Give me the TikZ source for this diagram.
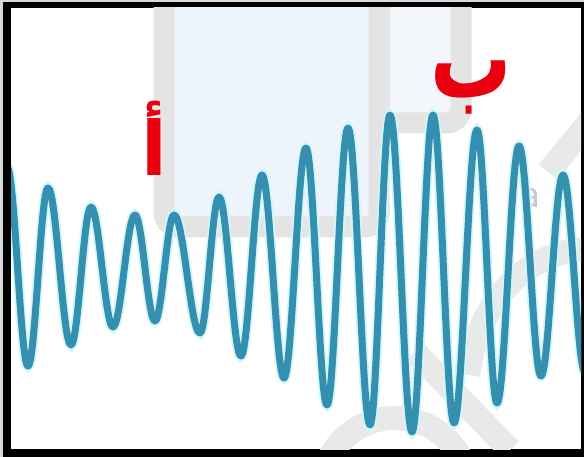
\documentclass[tikz,border=0pt]{standalone}
\usepackage{fontspec}
\newfontfamily\arabicfont[Script=Arabic]{DejaVu Sans}
\TeXXeTstate=1
\usetikzlibrary{calc}
\definecolor{wave}{HTML}{3490AE}
\definecolor{glow}{HTML}{D2F7FB}
\definecolor{letter}{HTML}{E8000E}
\definecolor{wmgray}{HTML}{E4E4E4}
\definecolor{wmgray2}{HTML}{E9E9E9}
\definecolor{wmblue}{HTML}{EEF4FC}
\definecolor{wmblue2}{HTML}{F3F7FC}
\tikzset{
  wavestyle/.style={draw=wave, line width=7, line join=round, line cap=round,
    preaction={draw=glow, line width=10.5}},
  wmframe/.style={draw=wmgray, line width=21, rounded corners=14},
  wmband/.style={draw=wmgray2, line width=24},
  letterstyle/.style={text=letter, inner sep=0pt, font=\arabicfont\bfseries\fontsize{75}{80}\selectfont}
}
\begin{document}
\begin{tikzpicture}[x=1pt,y=-1pt]
\useasboundingbox (0,0) rectangle (584,457);
\fill[gray!30] (0,0) rectangle (584,457);
\fill[black] (3,2) rectangle (584,457);
\fill[white] (11,8) rectangle (581,449);
\begin{scope}
\clip (11,8) rectangle (581,449);
% faint watermark
\draw[wmframe, fill=wmblue2] (379,-30) rectangle (461,123);
\draw[wmframe, fill=wmblue] (164,-30) rectangle (379,227);
\draw[wmband] (395,492) circle[radius=74];
\draw[wmband] (415,352) -- (510,450);
\draw[wmband] (468,375) .. controls (480,290) and (540,245) .. (595,250);
\draw[wmband] (548,172) -- (595,115);
\node[text=wmgray!85!black!90, font=\sffamily\fontsize{44}{44}\selectfont] (wa) at (530,198) {a};
% wave
\foreach \n/\x/\y in {0/7/167,1/28/366,2/48/188,3/71/345,4/91/207,5/113/327,
  6/135/215,7/155/321,8/174/215,9/200/333,10/219/197,11/241/356,12/262/175,
  13/284/378,14/306/148,15/327/405,16/348/128,17/370/425,18/390/115,19/412/432,
  20/433/115,21/454/423,22/477/130,23/497/403,24/519/146,25/541/376,26/563/175,
  27/585/372}
  \coordinate (e\n) at (\x,\y);
\draw[wavestyle] (e0) \foreach \i [count=\j] in {0,...,26} {
  cos ($(e\i)!0.5!(e\j)$) sin (e\j) };
\end{scope}
\node[letterstyle] (a) at (154,138) {\scalebox{1.0}[1.0]{\beginR أ\endR}};
\node[letterstyle] (b) at (471,88) {\scalebox{1.08}[1.5]{\beginR ب\endR}};
\end{tikzpicture}
\end{document}
